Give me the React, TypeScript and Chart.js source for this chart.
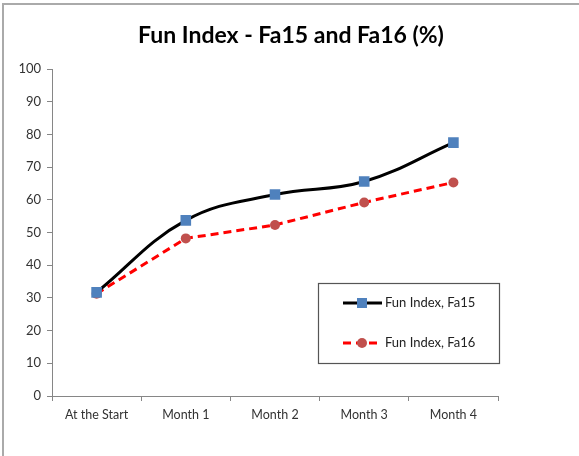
import React, { useEffect, useRef } from "react";
import { Chart, registerables } from "chart.js";

Chart.register(...registerables);

const categories = ["At the Start", "Month 1", "Month 2", "Month 3", "Month 4"];
const fa15 = [31.7, 53.7, 61.6, 65.6, 77.5];
const fa16 = [31.3, 48.2, 52.3, 59.2, 65.3];
const seriesNames = ["Fun Index, Fa15", "Fun Index, Fa16"];
const titleText = "Fun Index - Fa15 and Fa16 (%)";

const FONT = "Lato, 'Open Sans', sans-serif";

const titlePlugin = {
  id: "customTitle",
  afterDraw(chart: any) {
    const ctx = chart.ctx;
    ctx.save();
    ctx.fillStyle = "#000000";
    ctx.font = `bold 23px ${FONT}`;
    ctx.textAlign = "center";
    ctx.textBaseline = "alphabetic";
    ctx.fillText(titleText, 291, 43);
    ctx.restore();
  },
};

const legendBoxPlugin = {
  id: "legendBox",
  afterDraw(chart: any) {
    const ctx = chart.ctx;
    const x0 = 318, y0 = 283, w = 181, h = 80;
    ctx.save();
    ctx.fillStyle = "#ffffff";
    ctx.fillRect(x0, y0, w, h);
    ctx.strokeStyle = "#555555";
    ctx.lineWidth = 1.2;
    ctx.strokeRect(x0 + 0.5, y0 + 0.5, w, h);
    const rows = [y0 + 20, y0 + 60];
    chart.data.datasets.forEach((ds: any, i: number) => {
      const y = rows[i];
      ctx.beginPath();
      ctx.setLineDash(ds.borderDash || []);
      ctx.lineWidth = ds.borderWidth;
      ctx.strokeStyle = ds.borderColor;
      ctx.moveTo(343, y);
      ctx.lineTo(382, y);
      ctx.stroke();
      ctx.setLineDash([]);
      ctx.fillStyle = ds.pointBackgroundColor;
      if (ds.pointStyle === "rect") {
        ctx.fillRect(362 - 5, y - 5, 10, 10);
      } else {
        ctx.beginPath();
        ctx.arc(362, y, 5, 0, Math.PI * 2);
        ctx.fill();
      }
      ctx.fillStyle = "#222222";
      ctx.font = `13px ${FONT}`;
      ctx.textBaseline = "middle";
      ctx.textAlign = "left";
      ctx.fillText(ds.label, 385, y);
    });
    ctx.restore();
  },
};

export default function App() {
  const ref = useRef<HTMLCanvasElement | null>(null);
  useEffect(() => {
    if (!ref.current) return;
    const chart = new Chart(ref.current, {
      type: "line",
      data: {
        labels: categories,
        datasets: [
          {
            label: seriesNames[0],
            data: fa15,
            borderColor: "#000000",
            borderWidth: 3,
            tension: 0.4,
            pointStyle: "rect",
            pointRadius: 7.5,
            pointBackgroundColor: "#4F81BD",
            pointBorderColor: "#4F81BD",
            pointBorderWidth: 0,
          },
          {
            label: seriesNames[1],
            data: fa16,
            borderColor: "#FF0000",
            borderWidth: 3,
            borderDash: [8, 5],
            tension: 0,
            pointStyle: "circle",
            pointRadius: 5,
            pointBackgroundColor: "#C0504D",
            pointBorderColor: "#C0504D",
            pointBorderWidth: 0,
          },
        ],
      },
      options: {
        animation: false,
        responsive: false,
        layout: { padding: { left: 0, right: 81, top: 69, bottom: 0 } },
        plugins: {
          legend: { display: false },
          tooltip: { enabled: false },
          title: { display: false },
        },
        scales: {
          x: {
            offset: true,
            grid: {
              offset: true,
              drawOnChartArea: false,
              drawTicks: true,
              tickLength: 5,
              color: "#868686",
            },
            border: { color: "#868686", width: 1 },
            ticks: { color: "#333333", font: { family: FONT, size: 12.5 }, padding: 6, maxRotation: 0 },
            afterFit: (s: any) => { s.height = 60; },
          },
          y: {
            min: 0,
            max: 100,
            ticks: { stepSize: 10, color: "#333333", font: { family: FONT, size: 13 }, padding: 6 },
            grid: {
              drawOnChartArea: false,
              drawTicks: true,
              tickLength: 5,
              color: "#868686",
            },
            border: { color: "#868686", width: 1 },
            afterFit: (s: any) => { s.width = 52; },
          },
        },
      },
      plugins: [titlePlugin, legendBoxPlugin],
    });
    return () => chart.destroy();
  }, []);
  return (
    <div
      style={{
        position: "absolute",
        left: 0,
        top: 0,
        width: 579,
        height: 456,
        background: "#ffffff",
      }}
    >
      <div
        style={{
          position: "absolute",
          left: 2,
          top: 3,
          width: 577,
          height: 453,
          borderTop: "2px solid #aaaaaa",
          borderLeft: "2px solid #aaaaaa",
          boxSizing: "border-box",
        }}
      />
      <canvas ref={ref} width={579} height={456} style={{ position: "absolute", left: 0, top: 0 }} />
    </div>
  );
}
